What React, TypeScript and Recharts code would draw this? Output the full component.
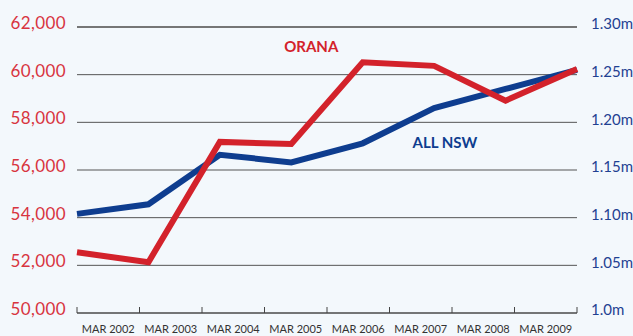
import { LineChart, Line, XAxis, YAxis, CartesianGrid, ReferenceDot, ReferenceLine } from "recharts";

const years = ["MAR 2002", "MAR 2003", "MAR 2004", "MAR 2005", "MAR 2006", "MAR 2007", "MAR 2008", "MAR 2009"];
const orana = [52550, 52130, 57180, 57090, 60520, 60370, 58910, 60240];
const allNsw = [1.104, 1.114, 1.166, 1.158, 1.178, 1.215, 1.235, 1.255];
const leftTicks = [50000, 52000, 54000, 56000, 58000, 60000, 62000];
const rightTicks = [1.0, 1.05, 1.1, 1.15, 1.2, 1.25, 1.3];
const bandTicks = [0, 1, 2, 3, 4, 5, 6, 7, 8];

const RED = "#d3222b";
const BLUE = "#0e3d8f";
const FONT = "Lato, 'Open Sans', sans-serif";

const data = years.map((y, i) => ({ i, year: y, orana: orana[i], nsw: allNsw[i] }));

// plot is 500px wide, 8 label bands -> half band = 31.25px
const HALF_BAND = 31.25;

function YearTick(props: any) {
  const { x, y, payload } = props;
  const idx = payload.value;
  return (
    <g>
      <line x1={x} x2={x} y1={y - 6} y2={y} stroke="#444" strokeWidth={1} />
      {idx < years.length && (
        <text x={x + HALF_BAND} y={y + 20} textAnchor="middle" fontSize={11} fill="#333" fontFamily={FONT}>
          {years[idx]}
        </text>
      )}
    </g>
  );
}

const fmtRight = (v: number) => (v === 1 ? "1.0m" : v.toFixed(2) + "m");

export default function App() {
  return (
    <div style={{ position: "absolute", left: 0, top: 0, width: 633, height: 336, background: "#f3f8fc" }}>
      <LineChart width={633} height={336} data={data} margin={{ top: 27, right: 0, bottom: 0, left: 0 }}>
        <CartesianGrid vertical={false} stroke="#555" yAxisId="l" xAxisId="pts" />
        <XAxis xAxisId="pts" dataKey="i" type="number" domain={[0, 7]} hide />
        <XAxis
          xAxisId="lbl"
          dataKey="i"
          type="number"
          domain={[0, 8]}
          ticks={bandTicks}
          interval={0}
          tickLine={false}
          tickSize={0}
          tickMargin={0}
          height={23}
          axisLine={{ stroke: "#444" }}
          tick={<YearTick />}
        />
        <YAxis
          yAxisId="l"
          orientation="left"
          domain={[50000, 62000]}
          ticks={leftTicks}
          width={77}
          axisLine={false}
          tickLine={false}
          tickMargin={5}
          tickFormatter={(v: number) => v.toLocaleString("en-US")}
          tick={{ fill: "#d8343f", fontSize: 17, fontFamily: FONT, dy: -4, letterSpacing: 0.4 }}
        />
        <YAxis
          yAxisId="r"
          orientation="right"
          domain={[1.0, 1.3]}
          ticks={rightTicks}
          width={56}
          axisLine={false}
          tickLine={false}
          tickMargin={8}
          tickFormatter={fmtRight}
          tick={{ fill: "#1f4192", fontSize: 15, fontFamily: FONT, textAnchor: "start", dy: -3 }}
        />
        <ReferenceLine xAxisId="pts" yAxisId="l" y={62000} stroke="#666" strokeWidth={1.5} ifOverflow="visible" />
        <Line
          xAxisId="pts"
          yAxisId="r"
          dataKey="nsw"
          stroke={BLUE}
          strokeWidth={6}
          dot={false}
          isAnimationActive={false}
        />
        <Line
          xAxisId="pts"
          yAxisId="l"
          dataKey="orana"
          stroke={RED}
          strokeWidth={6}
          dot={false}
          isAnimationActive={false}
        />
        <ReferenceDot
          xAxisId="pts"
          yAxisId="l"
          x={3.28}
          y={61160}
          r={0}
          fill="none"
          stroke="none"
          label={{ value: "ORANA", fill: RED, fontSize: 15, fontWeight: 700, fontFamily: FONT, position: "center" }}
        />
        <ReferenceDot
          xAxisId="pts"
          yAxisId="r"
          x={5.15}
          y={1.179}
          r={0}
          fill="none"
          stroke="none"
          label={{ value: "ALL NSW", fill: BLUE, fontSize: 15, fontWeight: 700, fontFamily: FONT, position: "center" }}
        />
      </LineChart>
    </div>
  );
}
